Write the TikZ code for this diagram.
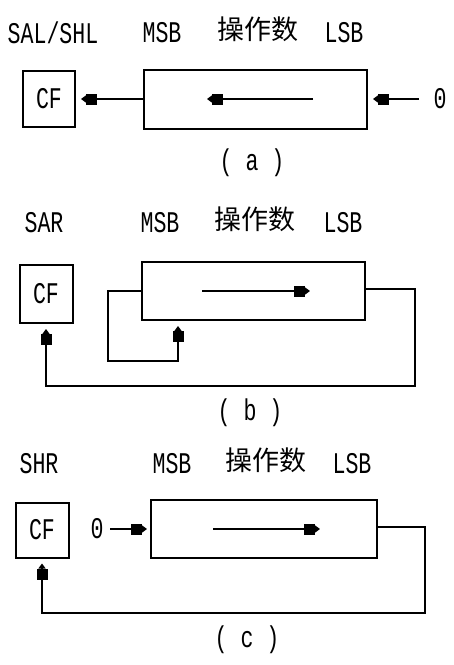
\documentclass[tikz,border=0pt]{standalone}
\usepackage{fontspec}
\setmonofont{Liberation Mono}
\newfontfamily\cjk{Noto Sans CJK SC}
\usetikzlibrary{arrows.meta}
\newcommand{\lbl}[1]{\scalebox{0.72}[1]{\ttfamily\fontsize{30}{32}\selectfont #1}}
\tikzset{
  box/.style={draw, line width=2pt, inner sep=0pt},
  txt/.style={inner sep=0pt},
  arr/.style={line width=2pt, -{Rectangle[length=11pt,width=11pt]Triangle[length=5pt,width=7pt]}, shorten >=5pt},
  iarr/.style={line width=2pt, -{Rectangle[length=11pt,width=11pt]Triangle[length=5pt,width=7pt]}},
}
\begin{document}
\begin{tikzpicture}[x=1pt,y=-1pt]
\useasboundingbox (0,0) rectangle (454,665);
% ---------- (a)
\node[txt] (ta) at (53,33) {\lbl{SAL/SHL}};
\node[txt] (ma) at (162,33) {\lbl{MSB}};
\node[txt] (ca) at (258,29) {\cjk\fontsize{27}{28}\selectfont 操作数};
\node[txt] (la) at (344,33) {\lbl{LSB}};
\node[box, minimum width=52pt, minimum height=56pt] (cfa) at (49,99) {\lbl{CF}};
\node[box, minimum width=223pt, minimum height=59pt] (opa) at (255.5,99) {};
\draw[arr] (opa.west) -- (cfa.east);
\coordinate (ia1) at (313,99);
\coordinate (ia2) at (207,99);
\draw[iarr] (ia1) -- (ia2);
\node[txt] (za) at (440,99) {\lbl{0}};
\coordinate (za1) at (419,99);
\draw[arr] (za1) -- (opa.east);
\node[txt] (capa) at (252,163) {\lbl{( a )}};
% ---------- (b)
\node[txt] (tb) at (44,223) {\lbl{SAR}};
\node[txt] (mb) at (160,223) {\lbl{MSB}};
\node[txt] (cb) at (255,219) {\cjk\fontsize{27}{28}\selectfont 操作数};
\node[txt] (lb) at (343,223) {\lbl{LSB}};
\node[box, minimum width=53pt, minimum height=58pt] (cfb) at (46,294) {\lbl{CF}};
\node[box, minimum width=223pt, minimum height=58pt] (opb) at (253.5,291) {};
\coordinate (ib1) at (202,291);
\coordinate (ib2) at (310,291);
\draw[iarr] (ib1) -- (ib2);
\coordinate (rb1) at (415,289);
\coordinate (rb2) at (415,386);
\draw[arr] (opb.east |- rb1) -- (rb1) -- (rb2) -| (cfb.south);
\coordinate (lb1) at (108,291);
\coordinate (lb2) at (178,361);
\draw[arr] (opb.west) -- (lb1) |- (lb2) -- (lb2 |- opb.south);
\node[txt] (capb) at (250,413) {\lbl{( b )}};
% ---------- (c)
\node[txt] (tc) at (39,464) {\lbl{SHR}};
\node[txt] (mc) at (172,464) {\lbl{MSB}};
\node[txt] (cc) at (266,460) {\cjk\fontsize{27}{28}\selectfont 操作数};
\node[txt] (lc) at (352,464) {\lbl{LSB}};
\node[box, minimum width=53pt, minimum height=55pt] (cfc) at (42,530) {\lbl{CF}};
\node[box, minimum width=226pt, minimum height=58pt] (opc) at (264,529) {};
\node[txt] (zc) at (97,529) {\lbl{0}};
\coordinate (zc1) at (110,529);
\draw[arr, shorten >=3pt] (zc1) -- (opc.west);
\coordinate (ic1) at (213,529);
\coordinate (ic2) at (320,529);
\draw[iarr] (ic1) -- (ic2);
\coordinate (rc1) at (425,527);
\coordinate (rc2) at (425,613);
\draw[arr] (opc.east |- rc1) -- (rc1) -- (rc2) -| (cfc.south);
\node[txt] (capc) at (247,640) {\lbl{( c )}};
\end{tikzpicture}
\end{document}
